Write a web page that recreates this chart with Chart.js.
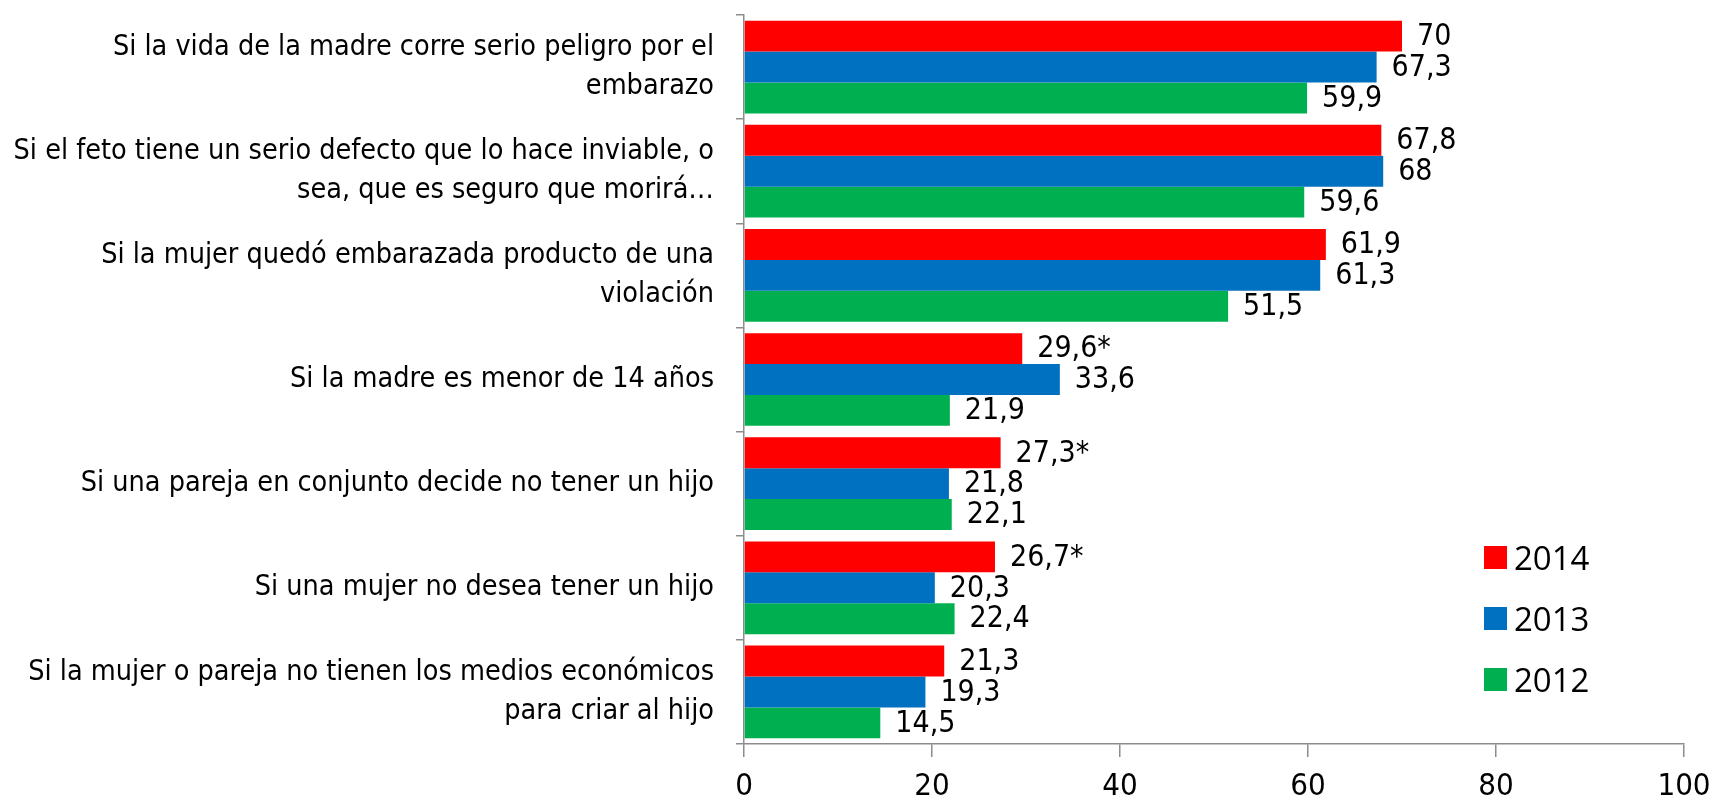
<!DOCTYPE html>
<html>
<head>
<meta charset="utf-8">
<script src="https://cdn.jsdelivr.net/npm/chart.js@4.4.1/dist/chart.umd.min.js"></script>
<style>
  html, body { margin: 0; padding: 0; background: #fff; }
  #wrap { position: relative; width: 1709px; height: 799px; }
  #legend { position: absolute; left: 1484px; top: 527px; font-family: "Open Sans", Lato, sans-serif; font-size: 33px; color: #000; }
  .li { display: flex; align-items: center; height: 61px; }
  .sw { width: 23px; height: 23px; margin-right: 7px; }
</style>
</head>
<body>
<div id="wrap">
  <canvas id="c" width="1709" height="799"></canvas>
  <div id="legend"></div>
</div>
<script>
const categories = [
  ["Si la vida de la madre corre serio peligro por el", "embarazo"],
  ["Si el feto tiene un serio defecto que lo hace inviable, o", "sea, que es seguro que morirá…"],
  ["Si la mujer quedó embarazada producto de una", "violación"],
  ["Si la madre es menor de 14 años"],
  ["Si una pareja en conjunto decide no tener un hijo"],
  ["Si una mujer no desea tener un hijo"],
  ["Si la mujer o pareja no tienen los medios económicos", "para criar al hijo"]
];
const seriesNames = ["2014", "2013", "2012"];
const values2014 = [70, 67.8, 61.9, 29.6, 27.3, 26.7, 21.3];
const values2013 = [67.3, 68, 61.3, 33.6, 21.8, 20.3, 19.3];
const values2012 = [59.9, 59.6, 51.5, 21.9, 22.1, 22.4, 14.5];
const marks2014 = ["", "", "", "*", "*", "*", ""];
const marks2013 = ["", "", "", "", "", "", ""];
const marks2012 = ["", "", "", "", "", "", ""];
const xTicks = [0, 20, 40, 60, 80, 100];

const colors = ["#FF0000", "#0070C0", "#00B050"];
const labelFont = '"Liberation Sans Narrow", "Arial Narrow", "DejaVu Sans Condensed", sans-serif';

const datasets = [
  { label: seriesNames[0], data: values2014, marks: marks2014, backgroundColor: colors[0] },
  { label: seriesNames[1], data: values2013, marks: marks2013, backgroundColor: colors[1] },
  { label: seriesNames[2], data: values2012, marks: marks2012, backgroundColor: colors[2] }
];

const valueLabels = {
  id: 'valueLabels',
  afterDatasetsDraw(chart) {
    const ctx = chart.ctx;
    ctx.save();
    ctx.font = '30px ' + labelFont;
    ctx.fillStyle = '#000';
    ctx.textAlign = 'left';
    ctx.textBaseline = 'middle';
    chart.data.datasets.forEach((ds, i) => {
      const meta = chart.getDatasetMeta(i);
      meta.data.forEach((bar, j) => {
        const txt = String(ds.data[j]).replace('.', ',') + (ds.marks[j] || '');
        ctx.fillText(txt, bar.x + 15, bar.y + 1);
      });
    });
    ctx.restore();
  }
};

const chart = new Chart(document.getElementById('c'), {
  type: 'bar',
  data: { labels: categories, datasets },
  options: {
    indexAxis: 'y',
    responsive: false,
    animation: false,
    devicePixelRatio: 1,
    layout: { padding: { top: 15, right: 25, left: 0, bottom: 0 } },
    datasets: { bar: { categoryPercentage: 0.89, barPercentage: 1.0 } },
    plugins: { legend: { display: false }, tooltip: { enabled: false } },
    scales: {
      x: {
        min: 0, max: 100,
        afterBuildTicks(scale) { scale.ticks = xTicks.map(v => ({ value: v })); },
        grid: { drawOnChartArea: false, drawTicks: true, tickLength: 13, color: '#8c8c8c', lineWidth: 1.5 },
        border: { color: '#8c8c8c', width: 1.5 },
        ticks: { font: { family: labelFont, size: 31 }, color: '#000', padding: 11 },
        afterFit(scale) { scale.height = 55; scale.paddingLeft = 0; scale.paddingRight = 0; }
      },
      y: {
        grid: { drawOnChartArea: false, offset: true, tickLength: 8, color: '#8c8c8c', lineWidth: 1.5 },
        border: { color: '#8c8c8c', width: 1.5 },
        ticks: { font: { family: labelFont, size: 28.5, lineHeight: 1.38 }, color: '#000', padding: 22, crossAlign: 'near' },
        afterFit(scale) { scale.width = 744; scale.paddingTop = 0; scale.paddingBottom = 0; }
      }
    }
  },
  plugins: [valueLabels]
});

const lg = document.getElementById('legend');
datasets.forEach(ds => {
  const row = document.createElement('div');
  row.className = 'li';
  const sw = document.createElement('span');
  sw.className = 'sw';
  sw.style.background = ds.backgroundColor;
  const t = document.createElement('span');
  t.textContent = ds.label;
  row.appendChild(sw); row.appendChild(t);
  lg.appendChild(row);
});
</script>
</body>
</html>
